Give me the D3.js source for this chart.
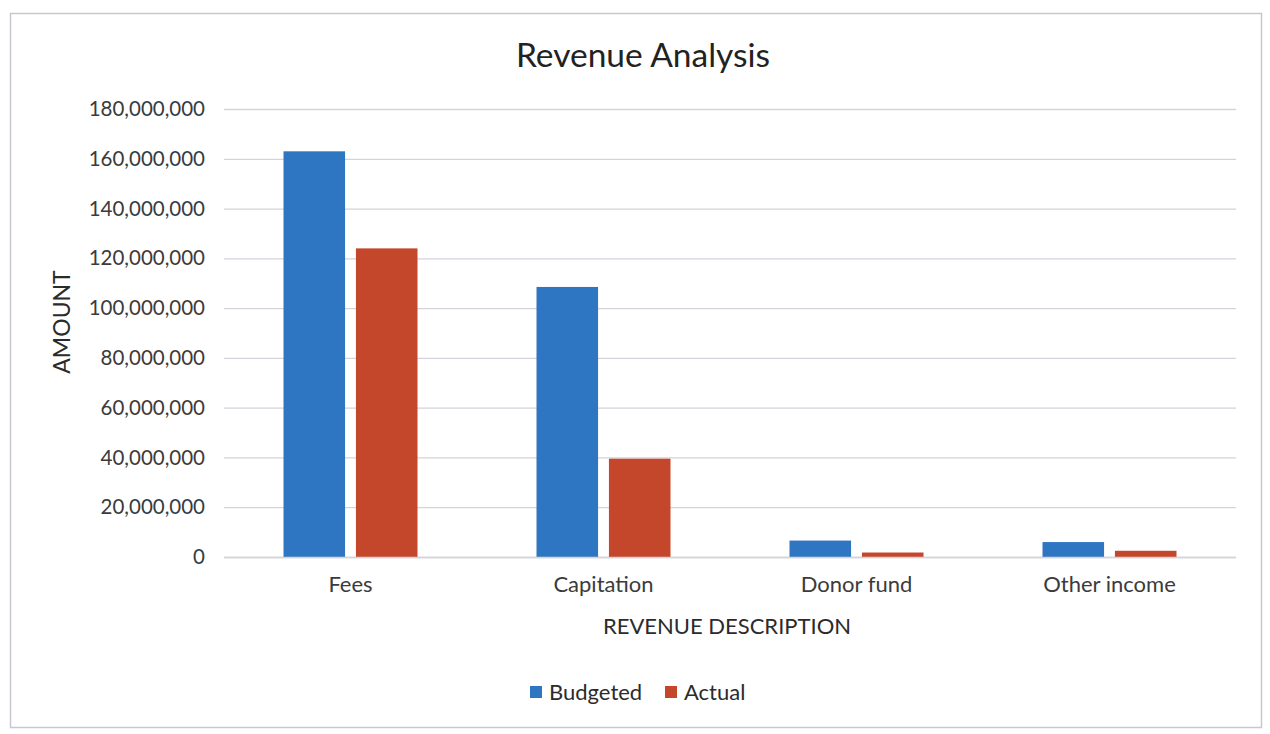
<!DOCTYPE html>
<html>
<head>
<meta charset="utf-8">
<script src="https://cdn.jsdelivr.net/npm/d3@7/dist/d3.min.js"></script>
<style>
  html, body { margin: 0; padding: 0; background: #ffffff; }
  svg { display: block; font-family: Lato, "Open Sans", "Liberation Sans", sans-serif; }
</style>
</head>
<body>
<svg id="chart" width="1270" height="734"></svg>
<script>
const categories = ["Fees", "Capitation", "Donor fund", "Other income"];
const seriesNames = ["Budgeted", "Actual"];
const budgeted = [163000000, 108500000, 6600000, 6000000];
const actual = [124000000, 39500000, 1800000, 2500000];
const yTicks = [0, 20000000, 40000000, 60000000, 80000000, 100000000, 120000000, 140000000, 160000000, 180000000];
const seriesColors = ["#2f76c2", "#c4462b"];

const svg = d3.select("#chart");
const W = 1270, H = 734;
const margin = { left: 224, right: 34, top: 109, bottom: 177 };
const plotW = W - margin.left - margin.right;
const plotH = H - margin.top - margin.bottom;

// outer chart frame
svg.append("rect")
  .attr("x", 10.5).attr("y", 13.5)
  .attr("width", 1251).attr("height", 714)
  .attr("fill", "#ffffff").attr("stroke", "#c9c5d3").attr("stroke-width", 1.5);

const g = svg.append("g").attr("transform", `translate(${margin.left},${margin.top})`);

const y = d3.scaleLinear().domain([0, 180000000]).range([plotH, 0]);
const x0 = d3.scaleBand().domain(categories).range([0, plotW]).padding(0);
const x1 = d3.scaleBand().domain(seriesNames)
  .range([x0.bandwidth() / 2 - 67, x0.bandwidth() / 2 + 67]).paddingInner(0.15);

// gridlines
g.append("g")
  .selectAll("line").data(yTicks).join("line")
  .attr("x1", 0).attr("x2", plotW)
  .attr("y1", d => y(d) + 0.5).attr("y2", d => y(d) + 0.5)
  .attr("stroke", "#d6d2dc").attr("stroke-width", 1.3);

// y axis labels
const yAxis = d3.axisLeft(y).tickValues(yTicks).tickSize(0).tickPadding(19)
  .tickFormat(d3.format(","));
const ya = g.append("g").call(yAxis);
ya.select(".domain").remove();
ya.selectAll("text").attr("font-size", 20.5).attr("fill", "#3b3b3b")
  .attr("font-family", "Lato, 'Open Sans', sans-serif");

// bars
const data = categories.map((c, i) => ({ cat: c, values: [budgeted[i], actual[i]] }));
const groups = g.append("g").selectAll("g").data(data).join("g")
  .attr("transform", d => `translate(${x0(d.cat)},0)`);
groups.selectAll("rect")
  .data(d => d.values.map((v, j) => ({ s: seriesNames[j], v: v, j: j })))
  .join("rect")
  .attr("x", d => x1(d.s))
  .attr("width", x1.bandwidth())
  .attr("y", d => y(d.v))
  .attr("height", d => plotH - y(d.v))
  .attr("fill", d => seriesColors[d.j]);

// baseline
g.append("line").attr("x1", 0).attr("x2", plotW)
  .attr("y1", plotH + 0.5).attr("y2", plotH + 0.5)
  .attr("stroke", "#d6d2dc").attr("stroke-width", 1.3);

// x axis labels
const xAxis = d3.axisBottom(x0).tickSize(0).tickPadding(19);
const xa = g.append("g").attr("transform", `translate(0,${plotH})`).call(xAxis);
xa.select(".domain").remove();
xa.selectAll("text").attr("font-size", 22).attr("fill", "#3b3b3b")
  .attr("font-family", "Lato, 'Open Sans', sans-serif");

// title
svg.append("text").attr("x", 643).attr("y", 67).attr("text-anchor", "middle")
  .attr("font-size", 33.5).attr("fill", "#222").text("Revenue Analysis");

// axis titles
svg.append("text")
  .attr("transform", "translate(70,322) rotate(-90)")
  .attr("text-anchor", "middle").attr("font-size", 23).attr("fill", "#2b2b2b")
  .text("AMOUNT");
svg.append("text").attr("x", 727).attr("y", 634).attr("text-anchor", "middle")
  .attr("font-size", 22).attr("fill", "#2b2b2b").text("REVENUE DESCRIPTION");

// legend
const legend = svg.append("g").attr("transform", "translate(530,692)");
const items = legend.selectAll("g").data(seriesNames).join("g")
  .attr("transform", (d, i) => `translate(${i === 0 ? 0 : 135},0)`);
items.append("rect").attr("x", 0).attr("y", -6).attr("width", 12).attr("height", 12)
  .attr("fill", (d, i) => seriesColors[i]);
items.append("text").attr("x", 19).attr("y", 8).attr("font-size", 22).attr("fill", "#2b2b2b")
  .text(d => d);
</script>
</body>
</html>
